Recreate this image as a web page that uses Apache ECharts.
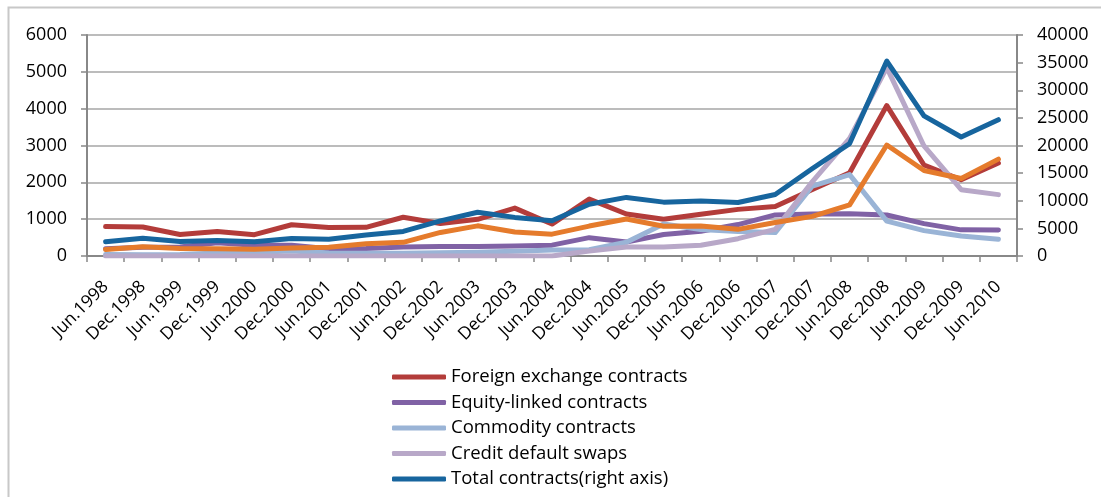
<!DOCTYPE html>
<html>
<head>
<meta charset="utf-8">
<script src="https://cdn.jsdelivr.net/npm/echarts@6/dist/echarts.min.js"></script>
<style>
  html, body { margin: 0; padding: 0; background: #fff; }
  #chart { width: 1101px; height: 497px; }
</style>
</head>
<body>
<div id="chart"></div>
<script>
// Half-yearly periods
const periods = ['Jun.1998','Dec.1998','Jun.1999','Dec.1999','Jun.2000','Dec.2000','Jun.2001','Dec.2001',
  'Jun.2002','Dec.2002','Jun.2003','Dec.2003','Jun.2004','Dec.2004','Jun.2005','Dec.2005',
  'Jun.2006','Dec.2006','Jun.2007','Dec.2007','Jun.2008','Dec.2008','Jun.2009','Dec.2009','Jun.2010'];

// Gross market values, left axis
const foreignExchange = [799,786,582,662,578,849,773,779,1052,881,996,1301,867,1546,1141,997,1134,1266,1345,1807,2262,4084,2470,2070,2524];
const equityLinked    = [196,236,244,359,293,289,199,205,243,255,260,274,294,498,382,582,671,853,1116,1142,1146,1112,879,710,706];
const commodity       = [43,36,44,80,101,133,83,75,78,86,100,128,166,169,376,871,718,667,636,1899,2209,946,689,545,457];
const creditDefault   = [0,0,0,0,0,0,0,0,0,0,0,0,0,133,243,243,294,470,721,2020,3192,5116,2987,1801,1666];

// Right axis
const interestRate    = [1160,1675,1357,1304,1230,1426,1573,2210,2467,4266,5459,4328,3951,5417,6699,5397,5435,4826,6063,7177,9263,20087,15478,14020,17533];
const totalContracts  = [2580,3231,2628,2813,2572,3183,3045,3788,4450,6360,7908,6987,6395,9377,10605,9749,9936,9691,11140,15834,20353,35281,25372,21542,24673];

const leftTicks = { min: 0, max: 6000, interval: 1000 };
const rightTicks = { min: 0, max: 40000, interval: 5000 };

const FONT = '"Open Sans", Lato, sans-serif';
const AXIS_GREY = '#888888';
const plain = v => String(v);

function lineSeries(name, data, color, axisIndex) {
  return {
    name: name,
    type: 'line',
    yAxisIndex: axisIndex,
    data: data,
    symbol: 'none',
    showSymbol: false,
    lineStyle: { color: color, width: 5, cap: 'round', join: 'round' },
    itemStyle: { color: color },
    emphasis: { disabled: true },
    animation: false
  };
}

const chart = echarts.init(document.getElementById('chart'), null, { renderer: 'canvas' });
chart.setOption({
  backgroundColor: '#ffffff',
  animation: false,
  textStyle: { fontFamily: FONT },
  graphic: [{
    type: 'rect',
    left: 6, top: 5,
    shape: { width: 1200, height: 600 },
    style: { fill: 'none', stroke: '#c8c8c8', lineWidth: 2 },
    silent: true
  }],
  grid: { left: 87, right: 84, top: 35, height: 221 },
  legend: {
    orient: 'vertical',
    left: 387, top: 362, height: 160,
    itemWidth: 54, itemHeight: 5,
    itemGap: 5.5,
    icon: 'roundRect',
    selectedMode: false,
    data: ['Foreign exchange contracts','Equity-linked contracts','Commodity contracts','Credit default swaps','Total contracts(right axis)'],
    textStyle: { fontFamily: FONT, fontSize: 18.5, color: '#000', lineHeight: 20, padding: [0,0,0,0] }
  },
  xAxis: {
    type: 'category',
    data: periods,
    boundaryGap: true,
    axisLine: { lineStyle: { color: AXIS_GREY, width: 2 } },
    axisTick: { show: true, length: 6, alignWithLabel: false, lineStyle: { color: AXIS_GREY, width: 1.5 } },
    axisLabel: { interval: 0, rotate: 45, margin: 28, fontFamily: FONT, fontSize: 17.5, color: '#000' },
    splitLine: { show: false }
  },
  yAxis: [{
    type: 'value',
    position: 'left',
    min: leftTicks.min, max: leftTicks.max, interval: leftTicks.interval,
    axisLine: { show: true, lineStyle: { color: AXIS_GREY, width: 2 } },
    axisTick: { show: true, length: 6, lineStyle: { color: AXIS_GREY, width: 1.5 } },
    axisLabel: { margin: 20, fontFamily: FONT, fontSize: 18, color: '#000', formatter: plain },
    splitLine: { show: true, lineStyle: { color: '#a6a6a6', width: 1.5 } }
  }, {
    type: 'value',
    position: 'right',
    min: rightTicks.min, max: rightTicks.max, interval: rightTicks.interval,
    axisLine: { show: true, lineStyle: { color: AXIS_GREY, width: 2 } },
    axisTick: { show: true, length: 6, lineStyle: { color: AXIS_GREY, width: 1.5 } },
    axisLabel: { margin: 20, fontFamily: FONT, fontSize: 18, color: '#000', align: 'left', formatter: plain },
    splitLine: { show: false }
  }],
  series: [
    lineSeries('Foreign exchange contracts', foreignExchange, '#B33C3A', 0),
    lineSeries('Equity-linked contracts', equityLinked, '#8062A5', 0),
    lineSeries('Commodity contracts', commodity, '#9AB4D6', 0),
    lineSeries('Credit default swaps', creditDefault, '#B8A8C8', 0),
    lineSeries('Interest rate contracts(right axis)', interestRate, '#E57B2C', 1),
    lineSeries('Total contracts(right axis)', totalContracts, '#17659E', 1)
  ]
});
</script>
</body>
</html>
